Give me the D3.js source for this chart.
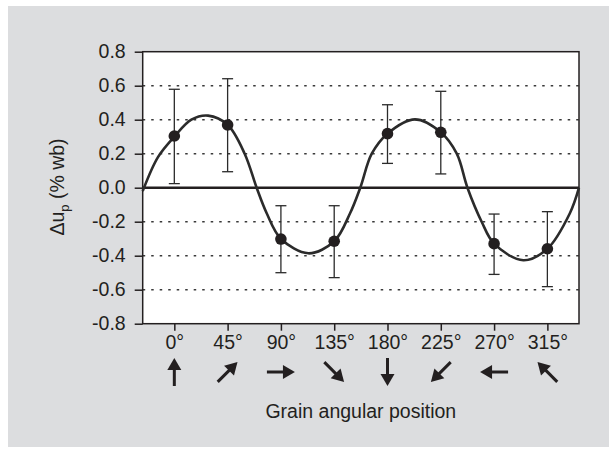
<!DOCTYPE html>
<html>
<head>
<meta charset="utf-8">
<script src="https://cdn.jsdelivr.net/npm/d3@7"></script>
<style>
  html, body { margin: 0; padding: 0; background: #ffffff; }
  svg { display: block; }
  text { font-family: "Liberation Sans", Arial, Helvetica, sans-serif; fill: #231f20; }
</style>
</head>
<body>
<svg id="chart" width="609" height="451"></svg>
<script>
// ---- data ----
const angles = [0, 45, 90, 135, 180, 225, 270, 315];
const angleLabels = ["0°", "45°", "90°", "135°", "180°", "225°", "270°", "315°"];
const means = [0.304, 0.369, -0.302, -0.315, 0.318, 0.326, -0.329, -0.359];
const errUpper = [0.579, 0.641, -0.106, -0.106, 0.488, 0.567, -0.155, -0.141];
const errLower = [0.024, 0.094, -0.500, -0.529, 0.143, 0.081, -0.510, -0.582];

// fitted curve
const fitAngles = [-26.7, -13.8, 0, 14.4, 28.5, 45, 59.4, 69.5, 78, 90, 113.2, 135, 148.4, 157, 166.7, 180, 203.2, 225, 238.5, 247.5, 259.5, 270, 294.7, 315, 334, 341.7];
const fitValues = [-0.02, 0.18, 0.30, 0.40, 0.424, 0.37, 0.20, 0.0, -0.15, -0.30, -0.386, -0.315, -0.15, 0.0, 0.20, 0.318, 0.402, 0.326, 0.20, 0.0, -0.20, -0.329, -0.427, -0.359, -0.15, 0.0];

const yTicks = [-0.8, -0.6, -0.4, -0.2, 0.0, 0.2, 0.4, 0.6, 0.8];
const yTickLabels = ["-0.8", "-0.6", "-0.4", "-0.2", "0.0", "0.2", "0.4", "0.6", "0.8"];
const gridValues = [-0.6, -0.4, -0.2, 0.2, 0.4, 0.6];
const yTitle = "Δu";
const yTitleSub = "p";
const yTitleRest = " (% wb)";
const xTitle = "Grain angular position";

// ---- layout ----
const svg = d3.select("#chart");
const ink = "#231f20";
const plot = { left: 142.7, right: 579, top: 51.7, bottom: 323.7 };

svg.append("rect").attr("x", 8).attr("y", 6).attr("width", 601).attr("height", 441).attr("fill", "#dcdddf");

const x = d3.scaleLinear().domain([-26.7, 341.7]).range([plot.left, plot.right]);
const y = d3.scaleLinear().domain([-0.8, 0.8]).range([plot.bottom, plot.top]);

svg.append("rect")
  .attr("x", plot.left).attr("y", plot.top)
  .attr("width", plot.right - plot.left).attr("height", plot.bottom - plot.top)
  .attr("fill", "#ffffff");

// grid
svg.append("g").selectAll("line").data(gridValues).join("line")
  .attr("x1", plot.left).attr("x2", plot.right)
  .attr("y1", d => y(d)).attr("y2", d => y(d))
  .attr("stroke", "#3a3a3a").attr("stroke-width", 1.5)
  .attr("stroke-dasharray", "2.5,6");

// zero line
svg.append("line")
  .attr("x1", plot.left).attr("x2", plot.right)
  .attr("y1", y(0)).attr("y2", y(0))
  .attr("stroke", ink).attr("stroke-width", 2.5);

// y axis
const yAxis = d3.axisLeft(y).tickValues(yTicks).tickSize(8).tickPadding(9)
  .tickFormat((d, i) => yTickLabels[i]);
const gy = svg.append("g").attr("transform", `translate(${plot.left},0)`).call(yAxis);
gy.select(".domain").remove();
gy.selectAll(".tick line").attr("stroke", ink).attr("stroke-width", 1.5);
gy.selectAll(".tick text").attr("font-size", 19.5).attr("fill", ink)
  .style("font-family", '"Liberation Sans", Arial, sans-serif');

// x axis
const xAxis = d3.axisBottom(x).tickValues(angles).tickSize(7).tickPadding(4)
  .tickFormat((d, i) => angleLabels[i]);
const gx = svg.append("g").attr("transform", `translate(0,${plot.bottom})`).call(xAxis);
gx.select(".domain").remove();
gx.selectAll(".tick line").attr("stroke", ink).attr("stroke-width", 1.5);
gx.selectAll(".tick text").attr("font-size", 19.5).attr("fill", ink)
  .style("font-family", '"Liberation Sans", Arial, sans-serif');

// frame
svg.append("rect")
  .attr("x", plot.left).attr("y", plot.top)
  .attr("width", plot.right - plot.left).attr("height", plot.bottom - plot.top)
  .attr("fill", "none").attr("stroke", ink).attr("stroke-width", 1.5);

// fitted curve
const fit = fitAngles.map((a, i) => [a, fitValues[i]]);
svg.append("path")
  .datum(fit)
  .attr("fill", "none").attr("stroke", "#2b2b2b").attr("stroke-width", 2.6)
  .attr("d", d3.line().x(d => x(d[0])).y(d => y(d[1])).curve(d3.curveCatmullRom.alpha(0.5)));

// error bars
const pts = angles.map((a, i) => ({ a, m: means[i], hi: errUpper[i], lo: errLower[i] }));
const eb = svg.append("g").attr("stroke", "#2b2b2b").attr("stroke-width", 1.3);
eb.selectAll(".v").data(pts).join("line").attr("class", "v")
  .attr("x1", d => x(d.a)).attr("x2", d => x(d.a))
  .attr("y1", d => y(d.hi)).attr("y2", d => y(d.lo));
eb.selectAll(".ct").data(pts).join("line").attr("class", "ct")
  .attr("x1", d => x(d.a) - 5.5).attr("x2", d => x(d.a) + 5.5)
  .attr("y1", d => y(d.hi)).attr("y2", d => y(d.hi));
eb.selectAll(".cb").data(pts).join("line").attr("class", "cb")
  .attr("x1", d => x(d.a) - 5.5).attr("x2", d => x(d.a) + 5.5)
  .attr("y1", d => y(d.lo)).attr("y2", d => y(d.lo));

// points
svg.append("g").selectAll("circle").data(pts).join("circle")
  .attr("cx", d => x(d.a)).attr("cy", d => y(d.m)).attr("r", 5.8)
  .attr("fill", "#231f20");

// direction arrows under tick labels
const arrows = svg.append("g").selectAll("g").data(angles).join("g")
  .attr("transform", d => `translate(${x(d)},372) rotate(${d})`);
arrows.append("line")
  .attr("x1", 0).attr("x2", 0).attr("y1", 14).attr("y2", -4)
  .attr("stroke", ink).attr("stroke-width", 3);
arrows.append("path")
  .attr("d", "M0,-14 L7,-2 L-7,-2 Z")
  .attr("fill", ink);

// axis titles
const yt = svg.append("text")
  .attr("transform", `translate(64,187) rotate(-90)`)
  .attr("text-anchor", "middle").attr("font-size", 19.5);
yt.append("tspan").text(yTitle);
yt.append("tspan").attr("font-size", 13).attr("dy", 5).text(yTitleSub);
yt.append("tspan").attr("dy", -5).text(yTitleRest);

svg.append("text")
  .attr("x", (plot.left + plot.right) / 2).attr("y", 418)
  .attr("text-anchor", "middle").attr("font-size", 19.5)
  .text(xTitle);
</script>
</body>
</html>
